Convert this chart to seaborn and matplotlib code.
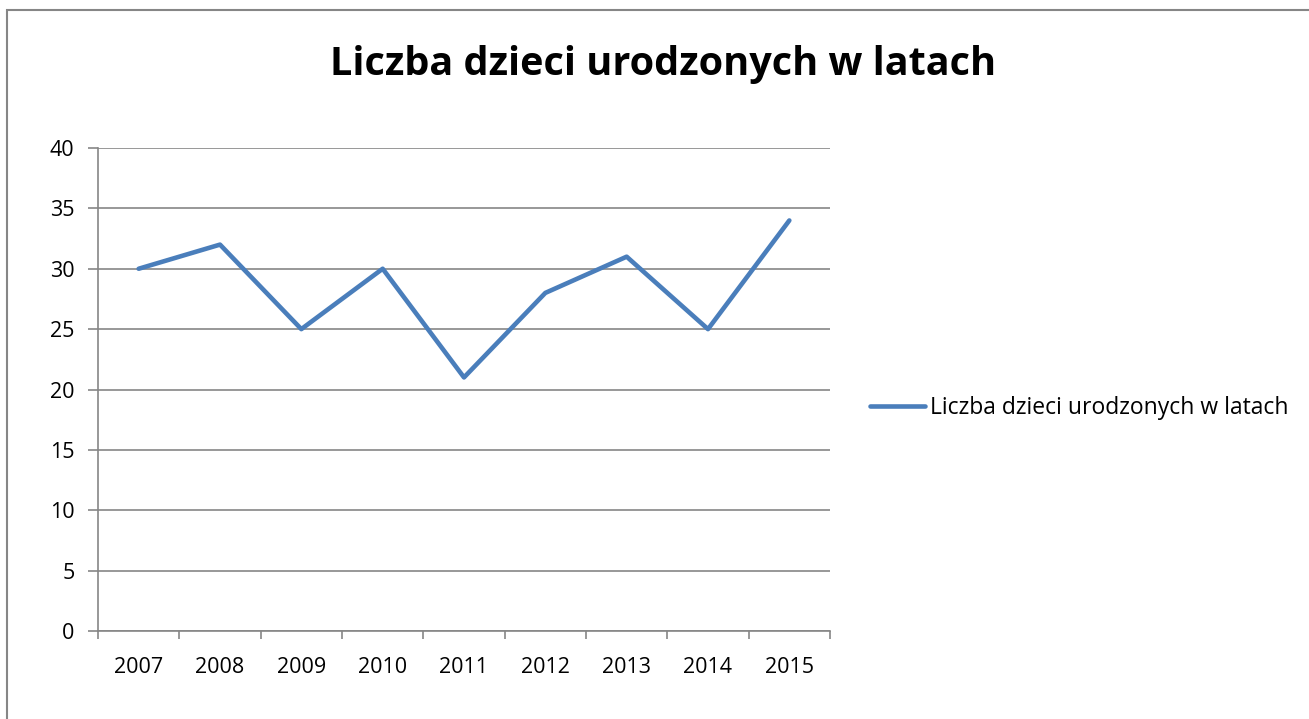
import numpy as np
import pandas as pd
import matplotlib
matplotlib.use("Agg")
import matplotlib.pyplot as plt
import seaborn as sns
from matplotlib.patches import Rectangle

years = ["2007", "2008", "2009", "2010", "2011", "2012", "2013", "2014", "2015"]
births = [30, 32, 25, 30, 21, 28, 31, 25, 34]
series_name = "Liczba dzieci urodzonych w latach"

sns.set_style("white")
plt.rcParams['font.family'] = ['Open Sans', 'DejaVu Sans']
plt.rcParams['text.color'] = 'black'
plt.rcParams['xtick.color'] = 'black'
plt.rcParams['ytick.color'] = 'black'

W, H = 1309, 719
fig = plt.figure(figsize=(W / 100, H / 100), dpi=100)
ax = fig.add_axes([98 / W, 1 - 631 / H, (830 - 98) / W, (631 - 148) / H])

df = pd.DataFrame({"rok": np.arange(len(years)), "liczba": births})
sns.lineplot(data=df, x="rok", y="liczba", ax=ax, color="#4a7ebb", linewidth=3.3,
             label=series_name)

ax.set_xlim(-0.5, len(years) - 0.5)
ax.set_ylim(0, 40)
ax.set_yticks(range(0, 41, 5))
ax.set_xticks(np.arange(len(years)))
ax.set_xticklabels(years)
ax.set_xticks(np.arange(len(years) + 1) - 0.5, minor=True)
ax.tick_params(axis="x", which="major", bottom=False, length=0, pad=19, labelsize=15.5,
               labelcolor="black")
ax.tick_params(axis="x", which="minor", bottom=True, length=6, width=1.2, color="#868686",
               direction="out")
ax.tick_params(axis="y", left=True, length=7, width=1.2, color="#868686", direction="out",
               pad=10, labelsize=15.5, labelcolor="black")
ax.yaxis.grid(True, color="#868686", linewidth=1.2)
ax.set_axisbelow(True)
for s in ["top", "right"]:
    ax.spines[s].set_visible(False)
for s in ["left", "bottom"]:
    ax.spines[s].set_color("#868686")
    ax.spines[s].set_linewidth(1.2)
ax.set_xlabel("")
ax.set_ylabel("")

leg = ax.legend(loc="center left", bbox_to_anchor=(870 / W, 1 - 408 / H),
                bbox_transform=fig.transFigure, frameon=False, fontsize=16.5,
                handlelength=2.4, handletextpad=0.2, borderpad=0, borderaxespad=0)
for t in leg.get_texts():
    t.set_color("black")

fig.text(663 / W, 1 - 65 / H, series_name, ha="center", va="center",
         fontsize=28.5, fontweight="bold", color="black")

fig.patches.append(Rectangle((7 / W, -0.1), 1.2, 1 - 10 / H + 0.1, transform=fig.transFigure,
                             fill=False, edgecolor="#868686", linewidth=1.5))

fig.savefig("out.png", dpi=100)
